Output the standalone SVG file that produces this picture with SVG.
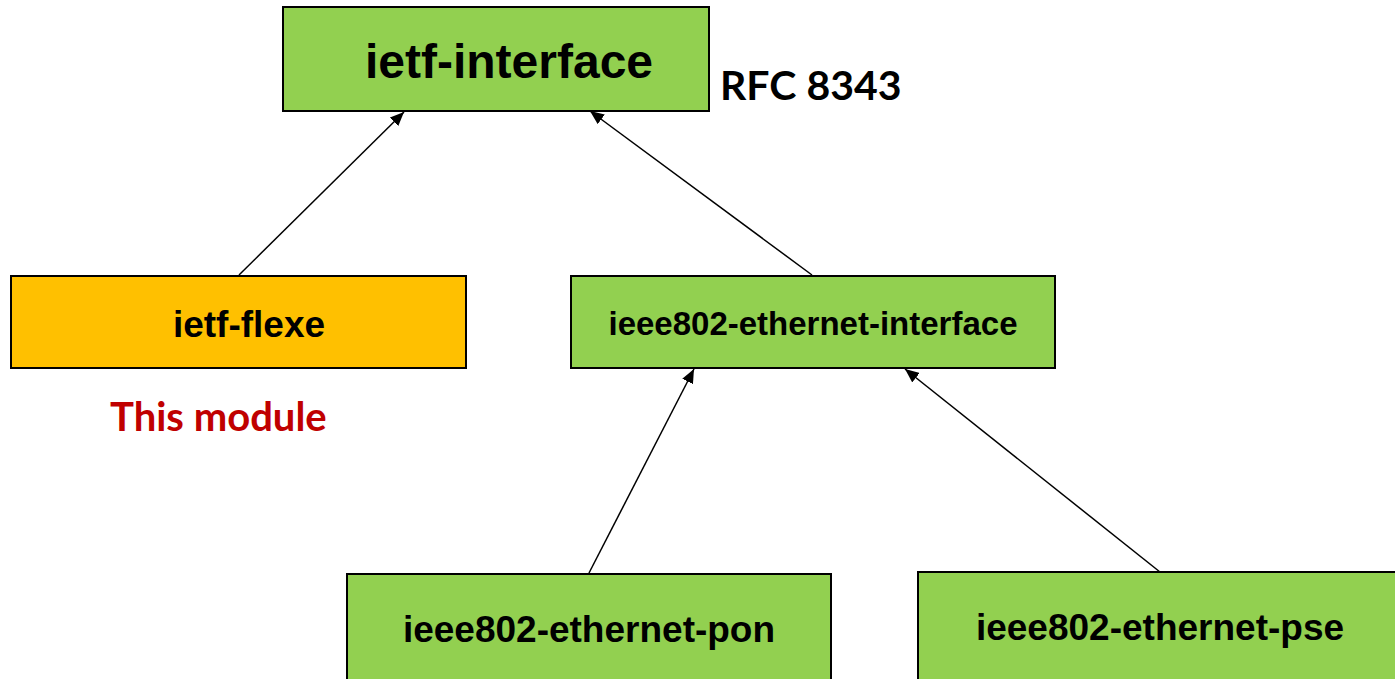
<svg xmlns="http://www.w3.org/2000/svg" width="1395" height="679" viewBox="0 0 1395 679">
<style>
.box{stroke:#000;stroke-width:2}
.green{fill:#92D050}
.orange{fill:#FFC000}
.lbl{font-family:"Liberation Sans",Arial,sans-serif;font-weight:bold;fill:#000;text-anchor:middle}
.note{font-family:Lato,"Open Sans",sans-serif;font-weight:bold}
.conn{stroke:#000;stroke-width:1.5;fill:none;marker-end:url(#arr)}
</style>
<defs>
<marker id="arr" viewBox="0 0 10 10" refX="10" refY="5" markerWidth="14" markerHeight="12" markerUnits="userSpaceOnUse" orient="auto" preserveAspectRatio="none">
<path d="M0,0 L10,5 L0,10 z" fill="#000"/>
</marker>
</defs>
<rect width="1395" height="679" fill="#fff"/>
<g id="connectors">
<line class="conn" x1="239" y1="275" x2="404" y2="112"/>
<line class="conn" x1="812" y1="275" x2="590" y2="111"/>
<line class="conn" x1="589" y1="573" x2="694" y2="369"/>
<line class="conn" x1="1160" y1="572" x2="905" y2="369"/>
</g>
<g id="ietf-interface">
<rect class="box green" x="283" y="7" width="426" height="104"/>
<text class="lbl" x="509" y="78" font-size="48">ietf-interface</text>
</g>
<g id="rfc-note">
<text class="note" x="720" y="100" font-size="41" fill="#000">RFC 8343</text>
</g>
<g id="ietf-flexe">
<rect class="box orange" x="11" y="276" width="455" height="92"/>
<text class="lbl" x="249" y="337" font-size="37">ietf-flexe</text>
</g>
<g id="this-module">
<text class="note" x="110" y="431" font-size="40" fill="#C00000">This module</text>
</g>
<g id="ieee802-ethernet-interface">
<rect class="box green" x="571" y="276" width="484" height="92"/>
<text class="lbl" x="813" y="335" font-size="33">ieee802-ethernet-interface</text>
</g>
<g id="ieee802-ethernet-pon">
<rect class="box green" x="347" y="574" width="484" height="110"/>
<text class="lbl" x="589" y="642" font-size="37">ieee802-ethernet-pon</text>
</g>
<g id="ieee802-ethernet-pse">
<rect class="box green" x="918" y="572" width="484" height="112"/>
<text class="lbl" x="1160" y="640" font-size="37">ieee802-ethernet-pse</text>
</g>
</svg>
